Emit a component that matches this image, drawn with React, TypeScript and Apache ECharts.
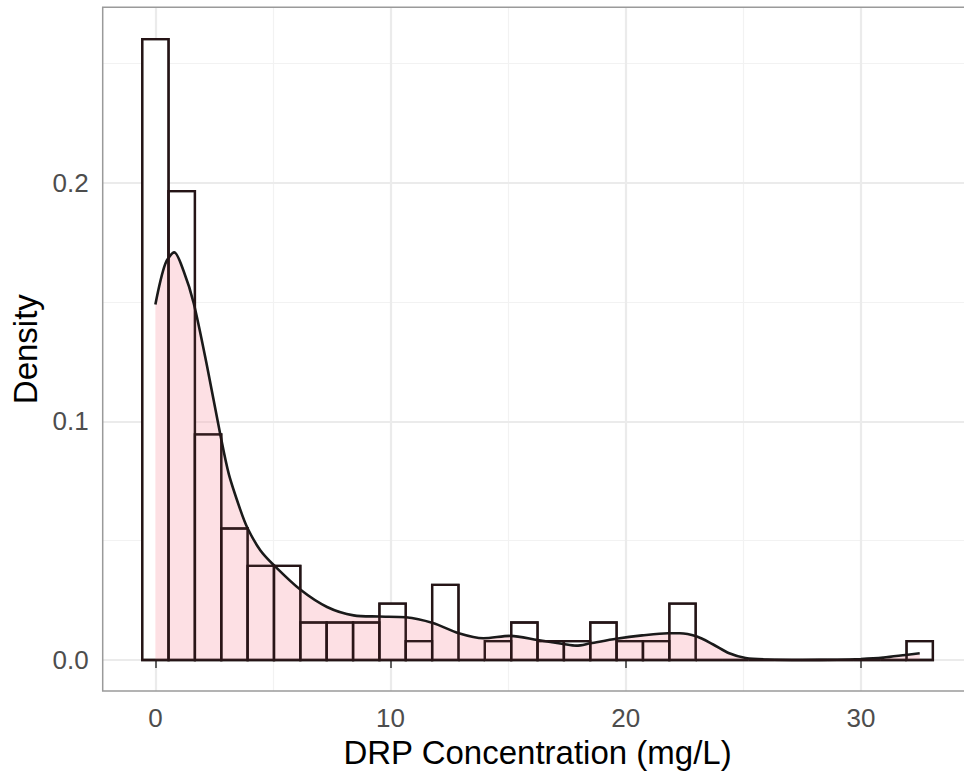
import React, { useEffect, useRef } from "react";
import * as echarts from "echarts";

// Histogram (density scale), bin centres and heights
const BIN_WIDTH = 1.1207;
const binCenters = [
  0, 1.121, 2.241, 3.362, 4.483, 5.603, 6.724, 7.845, 8.966, 10.086,
  11.207, 12.328, 13.448, 14.569, 15.69, 16.81, 17.931, 19.052, 20.172, 21.293,
  22.414, 23.534, 24.655, 25.776, 26.897, 28.017, 29.138, 30.259, 31.379, 32.5,
];
const binDensity = [
  0.2602, 0.1965, 0.0945, 0.0551, 0.0394, 0.0394, 0.0157, 0.0157, 0.0157, 0.0236,
  0.0079, 0.0315, 0, 0.0079, 0.0157, 0.0079, 0.0079, 0.0157, 0.0079, 0.0079,
  0.0236, 0, 0, 0, 0, 0, 0, 0, 0, 0.0079,
];

// Kernel density curve
const densityX = [
  0.0, 0.42, 0.8, 1.2, 1.63, 2.2, 2.76, 3.12, 3.61, 3.92, 4.46, 5.03, 6.16, 7.3,
  8.43, 9.5, 10.65, 11.8, 12.9, 13.95, 15.1, 16.25, 17.35, 17.9, 18.5, 19.6,
  20.7, 21.8, 22.3, 23.0, 23.7, 24.4, 25.1, 26.0, 27.5, 29.0, 30.0, 30.95, 31.9, 32.5,
];
const densityY = [
  0.149, 0.166, 0.1708, 0.163, 0.1495, 0.123, 0.0945, 0.078, 0.063, 0.0552,
  0.046, 0.0398, 0.0295, 0.0222, 0.0187, 0.0182, 0.0179, 0.0155, 0.0112, 0.0091,
  0.0101, 0.0084, 0.0067, 0.006, 0.007, 0.0089, 0.0103, 0.0112, 0.0112, 0.0099,
  0.0066, 0.0028, 0.0008, 0.0002, 0.0, 0.0001, 0.0004, 0.001, 0.0021, 0.0028,
];

// Axes
const xMajorTicks = [0, 10, 20, 30];
const xMinorLines = [5, 15, 25];
const yMajorTicks = [0, 0.1, 0.2];
const yMinorLines = [0.05, 0.15, 0.25];
const X_MIN = -2.24;
const X_MAX = 34.74;
const Y_MIN = -0.013;
const Y_MAX = 0.2735;

const FONT = "Liberation Sans";

export default function App() {
  const ref = useRef<HTMLDivElement>(null);

  useEffect(() => {
    if (!ref.current) return;
    const chart = echarts.init(ref.current, undefined, { renderer: "svg" });

    const histData = binCenters.map((c, i) => [c, binDensity[i]]);
    const densData = densityX.map((x, i) => [x, densityY[i]]);

    const gridLines = [
      ...xMinorLines.map((v) => ({ xAxis: v, lineStyle: { color: "#f2f2f2", width: 1.2, type: "solid" } })),
      ...yMinorLines.map((v) => ({ yAxis: v, lineStyle: { color: "#f2f2f2", width: 1.2, type: "solid" } })),
      ...xMajorTicks.map((v) => ({ xAxis: v, lineStyle: { color: "#ebebeb", width: 2.2, type: "solid" } })),
      ...yMajorTicks.map((v) => ({ yAxis: v, lineStyle: { color: "#ebebeb", width: 2.2, type: "solid" } })),
    ];

    const barRender = (fill: string, stroke: string, lw: number) => (params: any, api: any) => {
      const c = api.value(0);
      const h = api.value(1);
      const tl = api.coord([c - BIN_WIDTH / 2, h]);
      const br = api.coord([c + BIN_WIDTH / 2, 0]);
      return {
        type: "rect",
        shape: { x: tl[0], y: tl[1], width: br[0] - tl[0], height: br[1] - tl[1] },
        style: { fill, stroke, lineWidth: lw },
      };
    };

    chart.setOption({
      animation: false,
      backgroundColor: "#ffffff",
      grid: {
        left: 102.7,
        right: 7.6,
        top: 7.3,
        bottom: 84,
        show: true,
        borderColor: "#9a9a9a",
        borderWidth: 1.5,
        backgroundColor: "transparent",
        z: 10,
      },
      xAxis: {
        type: "value",
        min: X_MIN,
        max: X_MAX,
        axisLine: { show: false },
        splitLine: { show: false },
        axisTick: {
          show: true,
          length: 8,
          customValues: xMajorTicks,
          lineStyle: { color: "#333333", width: 1.5 },
        },
        axisLabel: {
          customValues: xMajorTicks,
          margin: 14,
          fontFamily: FONT,
          fontSize: 26,
          color: "#4d4d4d",
          formatter: (v: number) => String(v),
        },
        name: "DRP Concentration (mg/L)",
        nameLocation: "middle",
        nameGap: 41,
        nameTextStyle: { fontFamily: FONT, fontSize: 33, color: "#000000", verticalAlign: "top" },
      },
      yAxis: {
        type: "value",
        min: Y_MIN,
        max: Y_MAX,
        axisLine: { show: false },
        splitLine: { show: false },
        axisTick: {
          show: true,
          length: 8,
          customValues: yMajorTicks,
          lineStyle: { color: "#333333", width: 1.5 },
        },
        axisLabel: {
          customValues: yMajorTicks,
          margin: 14,
          fontFamily: FONT,
          fontSize: 26,
          color: "#4d4d4d",
          formatter: (v: number) => v.toFixed(1),
        },
        name: "Density",
        nameLocation: "middle",
        nameGap: 60,
        nameTextStyle: { fontFamily: FONT, fontSize: 33, color: "#000000" },
      },
      series: [
        {
          type: "line",
          data: [],
          silent: true,
          z: 0,
          markLine: {
            z: 0,
            silent: true,
            symbol: "none",
            label: { show: false },
            animation: false,
            data: gridLines,
          },
        },
        {
          type: "custom",
          z: 2,
          silent: true,
          data: histData,
          encode: { x: 0, y: 1 },
          renderItem: barRender("#ffffff", "#1a1a1a", 2.3),
        },
        {
          type: "line",
          z: 3,
          silent: true,
          data: densData,
          smooth: 0.3,
          symbol: "none",
          lineStyle: { color: "#1a1a1a", width: 2.6 },
          areaStyle: { color: "rgba(248,165,178,0.5)", origin: 0 },
        },
        {
          type: "custom",
          z: 4,
          silent: true,
          data: histData,
          encode: { x: 0, y: 1 },
          renderItem: barRender("none", "rgba(40,20,22,0.85)", 2.3),
        },
      ],
    });

    return () => chart.dispose();
  }, []);

  return (
    <div
      style={{
        position: "fixed",
        left: 0,
        top: 0,
        width: 964,
        height: 775,
        overflow: "hidden",
        background: "#ffffff",
      }}
    >
      <div ref={ref} style={{ width: 980, height: 775 }} />
    </div>
  );
}
